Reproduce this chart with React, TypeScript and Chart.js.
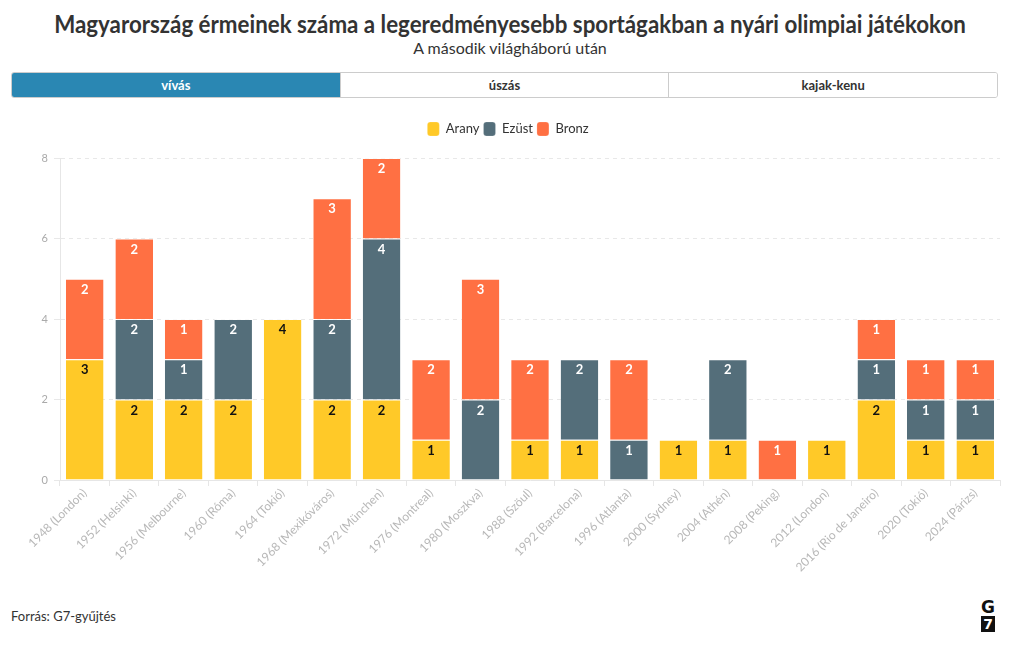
import React, { useEffect, useRef } from "react";
import { Chart, registerables } from "chart.js";

Chart.register(...registerables);

const categories = [
  "1948 (London)", "1952 (Helsinki)", "1956 (Melbourne)", "1960 (Róma)", "1964 (Tokió)",
  "1968 (Mexikóváros)", "1972 (München)", "1976 (Montreal)", "1980 (Moszkva)", "1988 (Szöul)",
  "1992 (Barcelona)", "1996 (Atlanta)", "2000 (Sydney)", "2004 (Athén)", "2008 (Peking)",
  "2012 (London)", "2016 (Rio de Janeiro)", "2020 (Tokió)", "2024 (Párizs)",
];
const gold = [3, 2, 2, 2, 4, 2, 2, 1, 0, 1, 1, 0, 1, 1, 0, 1, 2, 1, 1];
const silver = [0, 2, 1, 2, 0, 2, 4, 0, 2, 0, 2, 1, 0, 2, 0, 0, 1, 1, 1];
const bronze = [2, 2, 1, 0, 0, 3, 2, 2, 3, 2, 0, 2, 0, 0, 1, 0, 1, 1, 1];
const yTicks = [0, 2, 4, 6, 8];
const tabs = ["vívás", "úszás", "kajak-kenu"];

const FONT = "Lato, 'Noto Sans', sans-serif";
const GOLD = "#FFC928";
const SILVER = "#546E7A";
const BRONZE = "#FF7043";

const labelPlugin = {
  id: "segLabels",
  afterDatasetsDraw(chart: any) {
    const ctx = chart.ctx;
    ctx.save();
    ctx.font = `bold 13px ${FONT}`;
    ctx.textAlign = "center";
    ctx.textBaseline = "middle";
    chart.data.datasets.forEach((ds: any, di: number) => {
      const meta = chart.getDatasetMeta(di);
      if (meta.hidden) return;
      meta.data.forEach((bar: any, i: number) => {
        const v = ds.data[i];
        if (!v) return;
        ctx.fillStyle = di === 0 ? "#111" : "#fff";
        ctx.fillText(String(v), bar.x, bar.y + 11);
      });
    });
    ctx.restore();
  },
};

const legendSpacing = {
  id: "legendSpacing",
  beforeInit(chart: any) {
    const orig = chart.legend.fit;
    chart.legend.fit = function () {
      orig.bind(chart.legend)();
      this.height += 12;
    };
  },
};

export default function App() {
  const ref = useRef<HTMLCanvasElement>(null);
  useEffect(() => {
    if (!ref.current) return;
    const chart = new Chart(ref.current, {
      type: "bar",
      data: {
        labels: categories,
        datasets: [
          { label: "Arany", data: gold, backgroundColor: GOLD, borderColor: "rgba(255,255,255,0.7)", borderWidth: { top: 1 } as any },
          { label: "Ezüst", data: silver, backgroundColor: SILVER, borderColor: "rgba(255,255,255,0.7)", borderWidth: { top: 1 } as any },
          { label: "Bronz", data: bronze, backgroundColor: BRONZE, borderColor: "rgba(255,255,255,0.7)", borderWidth: { top: 1 } as any },
        ],
      },
      options: {
        animation: false,
        responsive: false,
        maintainAspectRatio: false,
        layout: { padding: { left: 8, right: 12, top: 8, bottom: 0 } },
        datasets: { bar: { categoryPercentage: 0.76, barPercentage: 1 } } as any,
        plugins: {
          legend: {
            position: "top",
            labels: {
              font: { family: FONT, size: 13 },
              color: "#333",
              boxWidth: 12,
              boxHeight: 14,
              useBorderRadius: true,
              borderRadius: 3,
              padding: 4,
            } as any,
          },
          tooltip: { enabled: false },
        },
        scales: {
          x: {
            stacked: true,
            grid: { drawOnChartArea: false, color: "#e6e6e6", tickLength: 6 },
            border: { color: "#e6e6e6" },
            ticks: {
              font: { family: FONT, size: 12 },
              color: "#b8b8b8",
              minRotation: 45,
              maxRotation: 45,
              autoSkip: false,
              padding: 0,
            },
            afterFit: (s: any) => { s.height = 110; },
          } as any,
          y: {
            stacked: true,
            min: 0,
            max: 8,
            afterBuildTicks: (s: any) => { s.ticks = yTicks.map((v) => ({ value: v })); },
            grid: { color: "#e8e8e8", tickLength: 6 },
            border: { color: "#e6e6e6", dash: [4, 4] },
            ticks: { font: { family: FONT, size: 11 }, color: "#aaa", padding: 6 },
            afterFit: (s: any) => { s.width = 44; },
          } as any,
        },
      },
      plugins: [labelPlugin, legendSpacing],
    });
    return () => chart.destroy();
  }, []);

  return (
    <div style={{ position: "relative", width: 1004, height: 634, fontFamily: FONT, color: "#333" }}>
      <div style={{ position: "absolute", top: 1, left: 0, width: 1004, textAlign: "center", fontWeight: 700, fontSize: 24, color: "#333", lineHeight: "30px", transform: "scaleX(0.93)", transformOrigin: "50% 50%", whiteSpace: "nowrap" }}>
        Magyarország érmeinek száma a legeredményesebb sportágakban a nyári olimpiai játékokon
      </div>
      <div style={{ position: "absolute", top: 30, left: 0, width: 1004, textAlign: "center", fontSize: 16, color: "#333", lineHeight: "20px" }}>
        A második világháború után
      </div>
      <div style={{ position: "absolute", top: 64, left: 3, width: 987, height: 26, display: "flex", border: "1px solid #ccc", borderRadius: 3, overflow: "hidden", boxSizing: "border-box" }}>
        {tabs.map((t, i) => (
          <div key={t} style={{ flex: 1, textAlign: "center", lineHeight: "24px", fontSize: 13, fontWeight: 700, background: i === 0 ? "#2A87B3" : "#fff", color: i === 0 ? "#fff" : "#333", borderLeft: i > 0 ? "1px solid #ccc" : "none" }}>
            {t}
          </div>
        ))}
      </div>
      <canvas ref={ref} width={1004} height={480} style={{ position: "absolute", top: 102, left: 0, width: 1004, height: 480 }} />
      <div style={{ position: "absolute", top: 600, left: 3, fontSize: 13, color: "#333" }}>Forrás: G7-gyűjtés</div>
      <div style={{ position: "absolute", top: 591, left: 972, width: 16, textAlign: "center", fontFamily: "'DejaVu Sans', sans-serif", fontWeight: 700 }}>
        <div style={{ fontSize: 17, lineHeight: "16px", color: "#111" }}>G</div>
        <div style={{ width: 14, height: 16, margin: "1px auto 0", background: "#111", color: "#fff", fontSize: 14, lineHeight: "16px" }}>7</div>
      </div>
    </div>
  );
}
